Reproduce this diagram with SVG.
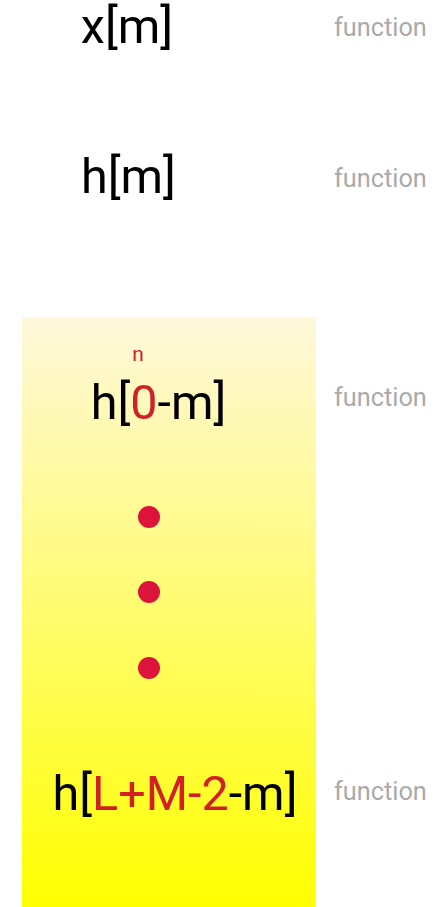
<svg xmlns="http://www.w3.org/2000/svg" width="444" height="907" viewBox="0 0 444 907">
<defs>
<linearGradient id="g" x1="0" y1="0" x2="0" y2="1">
<stop offset="0" stop-color="#fff8dc"/>
<stop offset="1" stop-color="#ffff00"/>
</linearGradient>
<style>
.big{font-family:Roboto,"Liberation Sans",sans-serif;font-size:48.5px;fill:#000;text-anchor:middle}
.fn{font-family:Roboto,"Liberation Sans",sans-serif;font-size:25.3px;fill:#aaaaaa}
.r{fill:#d22027}
.dot{fill:#dc143c}
</style>
</defs>
<rect x="22" y="317" width="294" height="590" fill="url(#g)"/>
<g id="xm"><text class="big" x="127" y="43">x[m]</text></g>
<g id="hm"><text class="big" x="128.5" y="193">h[m]</text></g>
<g id="h0"><text x="138" y="361" font-family="Roboto,'Liberation Sans',sans-serif" font-size="21" fill="#d22027" text-anchor="middle">n</text><text class="big" x="158.5" y="419">h[<tspan class="r">0</tspan>-m]</text></g>
<g id="dots"><circle class="dot" cx="149" cy="517" r="11"/><circle class="dot" cx="149" cy="592" r="11"/><circle class="dot" cx="149" cy="668" r="11"/></g>
<g id="hL"><text class="big" x="175" y="810">h[<tspan class="r">L+M-2</tspan>-m]</text></g>
<g id="labels">
<text class="fn" x="334" y="36">function</text>
<text class="fn" x="334" y="187">function</text>
<text class="fn" x="334" y="406">function</text>
<text class="fn" x="334" y="800">function</text>
</g>
</svg>
